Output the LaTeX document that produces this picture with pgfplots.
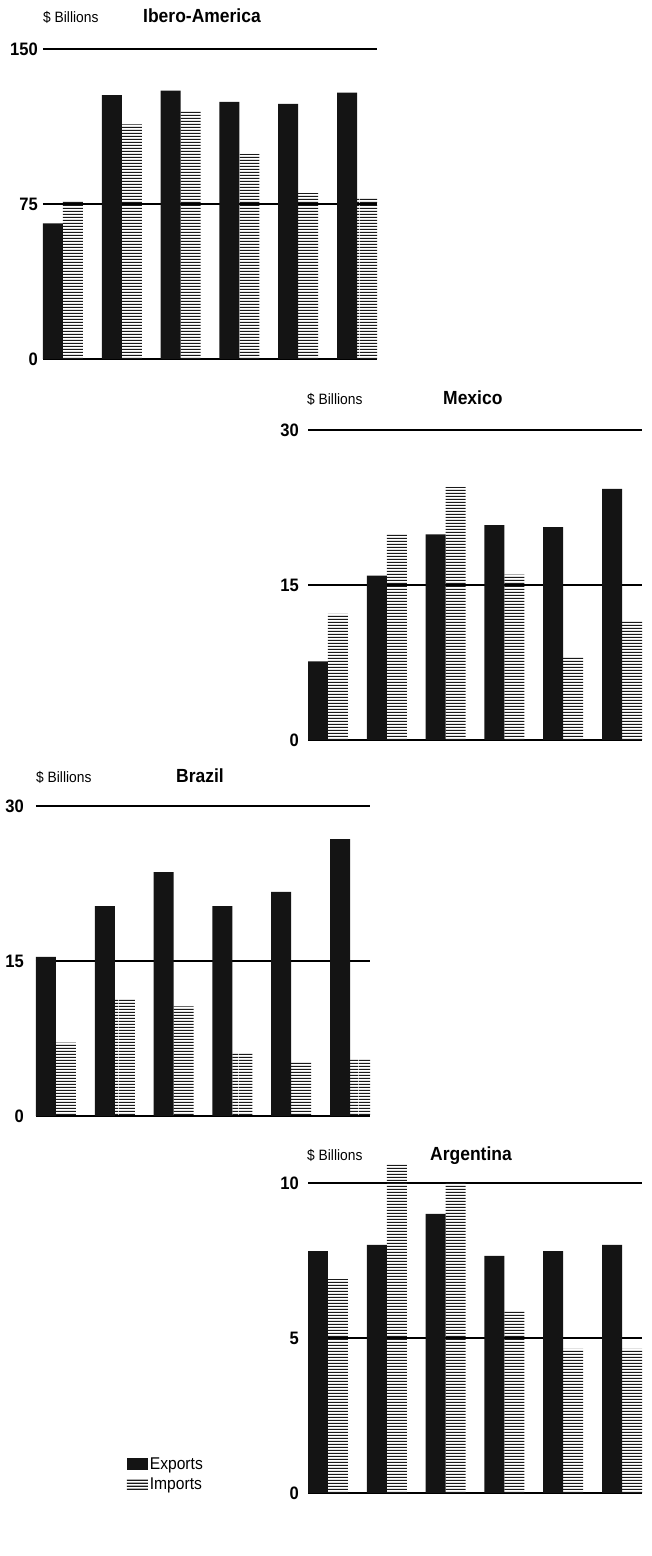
\documentclass[border=0pt]{standalone}
\usepackage{pgfplots}
\pgfplotsset{compat=1.18}
\usepackage{fontspec}
\usetikzlibrary{patterns.meta}
\newfontfamily\cond[FakeStretch=0.92]{Liberation Sans}
\tikzdeclarepattern{
  name=hlines, type=uncolored,
  bounding box={(0pt,0pt) and (120pt,3pt)},
  tile size={(120pt,3pt)},
  code={\pgfpathrectangle{\pgfpoint{0pt}{0pt}}{\pgfpoint{120pt}{1.6pt}}\pgfusepath{fill}}
}
\pgfplotsset{
  panel/.style={
    scale only axis, width=334pt, height=310pt, anchor=south west,
    ybar, bar width=0.34, enlargelimits=false, xmin=-0.34, xmax=5.34, ymin=0,
    axis line style={draw=none}, xtick=\empty, major tick length=0pt,
    ymajorgrids, grid style={black, line width=2.7pt},
    extra y tick style={grid style={black, line width=1.7pt}},
    yticklabel style={font=\cond\bfseries\fontsize{18}{18}\selectfont, anchor=east, inner sep=0pt},
    clip=false,
  },
  exp/.style={fill=black!92, draw=none, bar shift=-0.17,
    legend image code/.code={\fill[black!92] (0pt,-6pt) rectangle (21pt,6pt);}},
  imp/.style={draw=none, pattern=hlines, pattern color=black!90, bar shift=0.17,
    legend image code/.code={\fill[pattern=hlines, pattern color=black!90] (0pt,-6pt) rectangle (21pt,6pt);}},
}
\newcommand{\sml}{\cond\fontsize{15}{15}\selectfont}
\newcommand{\ttl}{\cond\bfseries\fontsize{19}{19}\selectfont}
\begin{document}
\begin{tikzpicture}
\useasboundingbox (0pt,0pt) rectangle (651pt,1556pt);
% Ibero-America
\begin{axis}[panel, at={(43pt,1197pt)}, ymax=150, ytick={0,150}, yticklabels={0,150},
  extra y ticks={75}, extra y tick labels={75}, yticklabel style={xshift=-5pt}]
\addplot[exp] coordinates {(0,65.6) (1,127.7) (2,129.8) (3,124.4) (4,123.4) (5,128.9)};
\addplot[imp] coordinates {(0,76.9) (1,113.5) (2,120.2) (3,99.2) (4,80.2) (5,78.2)};
\end{axis}
\node[anchor=base west, inner sep=0pt] at (43pt,1533pt) {\sml \$ Billions};
\node[anchor=base west, inner sep=0pt] at (143pt,1533pt) {\ttl Ibero-America};
% Mexico
\begin{axis}[panel, at={(308pt,816pt)}, ymax=30, ytick={0,30}, yticklabels={0,30},
  extra y ticks={15}, extra y tick labels={15}, yticklabel style={xshift=-9pt}]
\addplot[exp] coordinates {(0,7.6) (1,15.9) (2,19.9) (3,20.8) (4,20.6) (5,24.3)};
\addplot[imp] coordinates {(0,12.2) (1,20.0) (2,24.5) (3,16.0) (4,8.1) (5,11.6)};
\end{axis}
\node[anchor=base west, inner sep=0pt] at (307pt,1151pt) {\sml \$ Billions};
\node[anchor=base west, inner sep=0pt] at (443pt,1151pt) {\ttl Mexico};
% Brazil
\begin{axis}[panel, at={(36pt,440pt)}, ymax=30, ytick={0,30}, yticklabels={0,30},
  extra y ticks={15}, extra y tick labels={15}, yticklabel style={xshift=-12pt}]
\addplot[exp] coordinates {(0,15.4) (1,20.3) (2,23.6) (3,20.3) (4,21.7) (5,26.8)};
\addplot[imp] coordinates {(0,7.1) (1,11.3) (2,10.6) (3,6.1) (4,5.3) (5,5.6)};
\end{axis}
\node[anchor=base west, inner sep=0pt] at (36pt,773pt) {\sml \$ Billions};
\node[anchor=base west, inner sep=0pt] at (176pt,773pt) {\ttl Brazil};
% Argentina
\begin{axis}[panel, at={(308pt,63pt)}, ymax=10, ytick={0,10}, yticklabels={0,10},
  extra y ticks={5}, extra y tick labels={5}, yticklabel style={xshift=-9pt},
  legend style={at={(-0.543,0)}, anchor=south west, draw=none, fill=none, inner sep=0pt,
    font=\cond\fontsize{17}{17}\selectfont, row sep=3pt, nodes={inner sep=2pt}},
  legend cell align=left]
\addplot[exp] coordinates {(0,7.8) (1,8.0) (2,9.0) (3,7.65) (4,7.8) (5,8.0)};
\addplot[imp] coordinates {(0,6.9) (1,10.6) (2,10.0) (3,5.9) (4,4.65) (5,4.65)};
\legend{Exports, Imports}
\end{axis}
\node[anchor=base west, inner sep=0pt] at (307pt,395pt) {\sml \$ Billions};
\node[anchor=base west, inner sep=0pt] at (430pt,395pt) {\ttl Argentina};
\end{tikzpicture}
\end{document}
